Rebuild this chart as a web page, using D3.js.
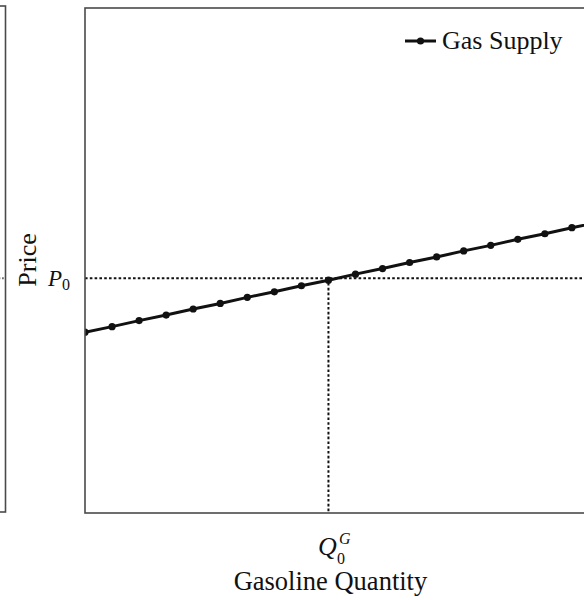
<!DOCTYPE html>
<html>
<head>
<meta charset="utf-8">
<script src="https://cdn.jsdelivr.net/npm/d3@7"></script>
<style>
  html, body { margin: 0; padding: 0; background: #fff; }
  svg { display: block; }
  text { font-family: "Liberation Serif", "DejaVu Serif", serif; fill: #111; }
</style>
</head>
<body>
<svg id="chart" width="584" height="600"></svg>
<script>
// Gasoline supply schedule: quantity steps and the price at each step
const quantities = [0, 1, 2, 3, 4, 5, 6, 7, 8, 9, 10, 11, 12, 13, 14, 15, 16, 17, 18, 19, 20];
const supplyPrices = [35.8, 36.9, 38.1, 39.2, 40.4, 41.5, 42.7, 43.8, 45.0, 46.1, 47.3,
                      48.4, 49.6, 50.7, 51.9, 53.0, 54.2, 55.3, 56.5, 57.6, 58.8];
const equilibriumPrice = 46.5;   // P0
const equilibriumQty = 9;        // Q0^G
const seriesName = "Gas Supply";
const xTitle = "Gasoline Quantity";
const yTitle = "Price";

const svg = d3.select("#chart");

const plot = { left: 85, top: 8, bottom: 513, right: 626 };

const x = d3.scaleLinear().domain([0, 20]).range([plot.left, plot.right]);
const y = d3.scaleLinear().domain([0, 100]).range([plot.bottom, plot.top]);

const frameColor = "#4a4a4a";
const dots = "2.6,2.2";

// neighbouring panel (only its right edge is in view)
svg.append("rect")
  .attr("x", -400).attr("y", 6)
  .attr("width", 405.5).attr("height", 506)
  .attr("fill", "none").attr("stroke", frameColor).attr("stroke-width", 1.6);
svg.append("line")
  .attr("x1", -60).attr("x2", 3.5)
  .attr("y1", y(equilibriumPrice)).attr("y2", y(equilibriumPrice))
  .attr("stroke", "#111").attr("stroke-width", 2)
  .attr("stroke-dasharray", dots);

// clip for the plot area
svg.append("clipPath").attr("id", "plot-clip")
  .append("rect")
  .attr("x", plot.left).attr("y", plot.top)
  .attr("width", plot.right - plot.left).attr("height", plot.bottom - plot.top);

const g = svg.append("g").attr("clip-path", "url(#plot-clip)");

// equilibrium guide lines
g.append("line")
  .attr("x1", plot.left).attr("x2", plot.right)
  .attr("y1", y(equilibriumPrice)).attr("y2", y(equilibriumPrice))
  .attr("stroke", "#111").attr("stroke-width", 2)
  .attr("stroke-dasharray", dots);
g.append("line")
  .attr("x1", x(equilibriumQty)).attr("x2", x(equilibriumQty))
  .attr("y1", y(equilibriumPrice)).attr("y2", plot.bottom)
  .attr("stroke", "#111").attr("stroke-width", 2)
  .attr("stroke-dasharray", dots);

// supply curve
const pts = quantities.map((q, i) => ({ q, p: supplyPrices[i] }));
g.append("path")
  .datum(pts)
  .attr("fill", "none").attr("stroke", "#111").attr("stroke-width", 3)
  .attr("d", d3.line().x(d => x(d.q)).y(d => y(d.p)));
g.selectAll("circle.pt")
  .data(pts).join("circle")
  .attr("class", "pt")
  .attr("cx", d => x(d.q)).attr("cy", d => y(d.p))
  .attr("r", 3.6).attr("fill", "#111");

// plot frame
svg.append("rect")
  .attr("x", plot.left).attr("y", plot.top)
  .attr("width", plot.right - plot.left).attr("height", plot.bottom - plot.top)
  .attr("fill", "none").attr("stroke", frameColor).attr("stroke-width", 1.6);

// y axis: single labelled value P0
const yAxis = svg.append("g")
  .attr("transform", `translate(${plot.left},0)`)
  .call(d3.axisLeft(y).tickValues([equilibriumPrice]).tickSize(0).tickPadding(15).tickFormat(""));
yAxis.select(".domain").remove();
const yt = yAxis.select(".tick text")
  .attr("font-size", 23).attr("dy", "0.3em");
yt.append("tspan").attr("font-style", "italic").text("P");
yt.append("tspan").attr("font-size", 16).attr("dy", 4).text("0");

// x axis: single labelled value Q0^G
const xAxis = svg.append("g")
  .attr("transform", `translate(0,${plot.bottom})`)
  .call(d3.axisBottom(x).tickValues([equilibriumQty]).tickSize(0).tickFormat(""));
xAxis.select(".domain").remove();
const xTick = xAxis.select(".tick");
xTick.select("text")
  .attr("y", 42).attr("dy", 0).attr("font-size", 26)
  .attr("text-anchor", "start").attr("x", -11)
  .attr("font-style", "italic")
  .text("Q");
// sub- and superscript beside the Q
xTick.append("text")
  .attr("text-anchor", "start")
  .attr("x", 8).attr("y", 51).attr("font-size", 16).attr("fill", "#111")
  .text("0");
xTick.append("text")
  .attr("text-anchor", "start")
  .attr("x", 10).attr("y", 31).attr("font-size", 16).attr("font-style", "italic").attr("fill", "#111")
  .text("G");

// axis titles
svg.append("text")
  .attr("x", x(equilibriumQty) + 2).attr("y", 590)
  .attr("text-anchor", "middle").attr("font-size", 26.5)
  .text(xTitle);
svg.append("text")
  .attr("transform", `translate(36,${260}) rotate(-90)`)
  .attr("text-anchor", "middle").attr("font-size", 26)
  .text(yTitle);

// legend
const lg = svg.append("g").attr("transform", "translate(405,41)");
lg.append("line").attr("x1", 0).attr("x2", 31).attr("y1", 0).attr("y2", 0)
  .attr("stroke", "#111").attr("stroke-width", 3);
lg.append("circle").attr("cx", 15.5).attr("cy", 0).attr("r", 3.6).attr("fill", "#111");
lg.append("text").attr("x", 37).attr("y", 8).attr("font-size", 26).text(seriesName);
</script>
</body>
</html>
